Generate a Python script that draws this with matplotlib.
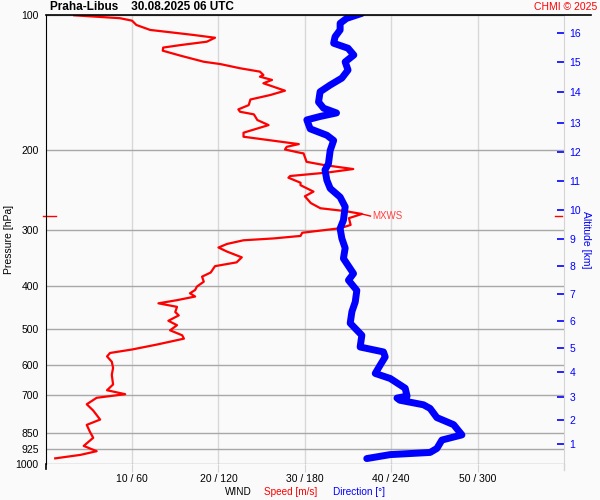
import numpy as np
import matplotlib
matplotlib.use("Agg")
import matplotlib.pyplot as plt
from matplotlib.ticker import NullLocator
from matplotlib.lines import Line2D

plt.rcParams['font.family'] = ['Liberation Sans', 'DejaVu Sans']

# wind speed profile (bottom -> top)
spd_p = [970, 953, 935, 910, 873, 845, 817, 795, 759, 735, 711, 698, 684, 664, 632, 610,
         591, 575, 565, 555, 541, 525, 516, 503, 490, 479, 466, 458, 446, 438, 431, 423,
         416, 409, 402, 392, 382, 374, 362, 355, 346, 336, 329, 323, 317, 314, 310, 305,
         298, 293, 283, 277, 273, 269, 262, 253, 247, 239, 236, 230, 228, 224, 220, 215.5,
         212, 203, 202.5, 199, 196.3, 193.6, 190.3, 186.4, 182.6, 175.6, 171.1, 166.2, 164,
         162, 158.5, 154, 150.5, 147.2, 141.7, 139.3, 137, 135.8, 133.5, 131.2, 128.4, 126.9,
         123, 119.9, 118, 116.5, 114.5, 112.2, 110.6, 109.3, 107.8, 105.1, 102.8, 101.5, 100]
spd = [1.1, 4.0, 5.9, 4.4, 5.5, 5.1, 4.75, 6.3, 5.5, 4.75, 5.9, 9.2, 7.1, 7.8, 7.65, 7.8,
       7.65, 7.1, 7.45, 10.0, 12.9, 16.0, 15.8, 14.4, 15.2, 14.2, 15.4, 15.0, 15.2, 13.05, 15.2, 17.3,
       16.7, 17.3, 17.5, 18.3, 18.1, 19.1, 19.6, 22.1, 22.7, 21.0, 20.0, 21.0, 22.9, 26.4, 29.5, 29.7,
       34.1, 35.3, 35.1, 36.6, 34.7, 31.8, 30.7, 30.0, 31.0, 29.5, 29.5, 28.1, 28.3, 32.6, 35.6, 32.2,
       30.2, 29.85, 29.5, 27.7, 27.9, 29.3, 26.4, 22.9, 22.9, 25.8, 24.5, 24.1, 22.5,
       22.3, 23.5, 23.7, 26.0, 27.7, 25.2, 26.2, 24.8, 25.2, 24.8, 22.5, 20.2, 18.3,
       15.6, 13.55, 13.6, 15.6, 18.65, 19.6, 17.1, 14.8, 12.1, 10.5, 10.0, 8.6, 3.3]

# wind direction profile (bottom -> top)
dir_p = [971, 951.5, 941, 922, 883, 860, 816, 787, 751, 737, 720, 712, 705, 677, 644, 627.5,
         601.5, 576.6, 562, 548, 516, 485, 457, 435, 410, 389, 376, 348, 330, 314, 298.5, 286,
         267, 254, 243, 233, 221, 214, 200, 190, 185, 179, 171, 168, 165, 161, 156, 148, 143,
         138, 132.4, 127, 122.6, 118.4, 115.4, 111.6, 107.8, 104.2, 101.6, 99]
wdir = [223, 239.3, 267, 271.7, 275.2, 289.1, 283.3, 271.7, 267, 262.4, 246, 244, 251, 249.7, 239.3, 228.9,
        232.3, 235.8, 234.6, 218.4, 219.6, 211.5, 212.7, 215, 216.1, 210.3, 213.8, 206.8, 208, 205.7, 204.5, 206.8,
        208, 204.5, 197.6, 195.3, 194, 196.4, 197.6, 200, 195.3, 183.7, 181.4, 190.6, 202, 193, 189.5, 190.6, 197.6,
        205.7, 210, 208, 214, 210, 200, 201, 204.5, 204.5, 209, 219.6]

p_ticks = [100, 200, 300, 400, 500, 600, 700, 850, 925, 1000]
spd_ticks = [10, 20, 30, 40, 50]
alt_km = list(range(1, 17))
alt_p = [899, 795, 708, 623, 549.6, 480.3, 418.2, 362.2, 314.4, 270.9, 233.9, 201.6, 173.4, 148.2, 127.1, 109.5]
mxws_p = 280

bg = '#fafafa'
fig = plt.figure(figsize=(6, 5), dpi=100, facecolor=bg)
ax = fig.add_axes([45.7/600, 1-464.3/500, 518.3/600, 449/500], facecolor=bg)

ax.set_yscale('log')
ax.set_ylim(1000, 100)
ax.set_xlim(0, 60)
ax.yaxis.set_minor_locator(NullLocator())
ax.set_yticks(p_ticks, [str(p) for p in p_ticks])
ax.set_xticks(spd_ticks, ["%d / %d" % (s, s*6) for s in spd_ticks])
ax.tick_params(axis='y', length=0, labelsize=7.5, pad=5)
ax.tick_params(axis='x', length=6, color='#d4d4d4', labelsize=7.5, pad=1)
ax.grid(axis='y', color='#a8a8a8', lw=1)
ax.grid(axis='x', color='#d8d8d8', lw=1)
ax.set_axisbelow(True)
for s in ['top', 'right', 'bottom']:
    ax.spines[s].set_visible(False)
ax.spines['left'].set_color('black')
ax.set_ylabel('Pressure [hPa]', fontsize=7.5, labelpad=1)

ax.plot(spd, spd_p, color='#ff0000', lw=1.6, zorder=3)

# direction on its own 0-360 scale
axd = ax.twiny()
axd.set_xlim(0, 360)
axd.set_xticks([])
for s in axd.spines.values():
    s.set_visible(False)
axd.plot(wdir, dir_p, color='#0000ff', lw=5, solid_capstyle='round', zorder=2)

# altitude axis
ax2 = ax.twinx()
ax2.set_yscale('log')
ax2.set_ylim(1000, 100)
ax2.yaxis.set_minor_locator(NullLocator())
ax2.set_yticks(alt_p, [str(a) for a in alt_km])
ax2.tick_params(axis='y', direction='in', length=5, width=1.2, color='#0000ff',
                labelcolor='#0000ff', labelsize=7.5, pad=4)
for s in ['top', 'left', 'bottom']:
    ax2.spines[s].set_visible(False)
ax2.spines['right'].set_color('#d4d4d4')
ax2.set_ylabel('Altitude [km]', color='#0000ff', fontsize=7.5, rotation=-90, labelpad=7)

# max wind marker
imax = int(np.argmax(spd))
ax.plot([spd[imax], spd[imax] + 1.0], [spd_p[imax], mxws_p], color='#ff0000', lw=1, zorder=3)
ax.text(spd[imax] + 1.2, mxws_p, 'MXWS', color='#ff4040', fontsize=7, va='center')
tr = ax.get_yaxis_transform()
ax.plot([-0.005, 0.02], [mxws_p, mxws_p], color='#ff0000', lw=1, transform=tr, clip_on=False)
ax.plot([0.983, 0.997], [mxws_p, mxws_p], color='#ff0000', lw=1, transform=tr, clip_on=False)

# frame lines
fig.add_artist(Line2D([45.7/600, 591/600], [1-15.3/500, 1-15.3/500], color='black', lw=1.2))
fig.add_artist(Line2D([45.7/600, 45.7/600], [1-464/500, 1-469/500], color='black', lw=1.2))
fig.add_artist(Line2D([564/600, 564/600], [1-464/500, 1-470/500], color='#d4d4d4', lw=1))

fig.text(50/600, 1-7/500, 'Praha-Libus    30.08.2025 06 UTC', fontsize=8.5, fontweight='bold', va='center')
fig.text(597/600, 1-7/500, 'CHMI © 2025', color='#ff0000', fontsize=7.5, ha='right', va='center')
fig.text(225/600, 1-492/500, 'WIND', fontsize=7.2, va='center')
fig.text(264/600, 1-492/500, 'Speed [m/s]', color='#ff0000', fontsize=7.2, va='center')
fig.text(333/600, 1-492/500, 'Direction [°]', color='#0000ff', fontsize=7.2, va='center')

fig.savefig('out.png', dpi=100, facecolor=bg)
